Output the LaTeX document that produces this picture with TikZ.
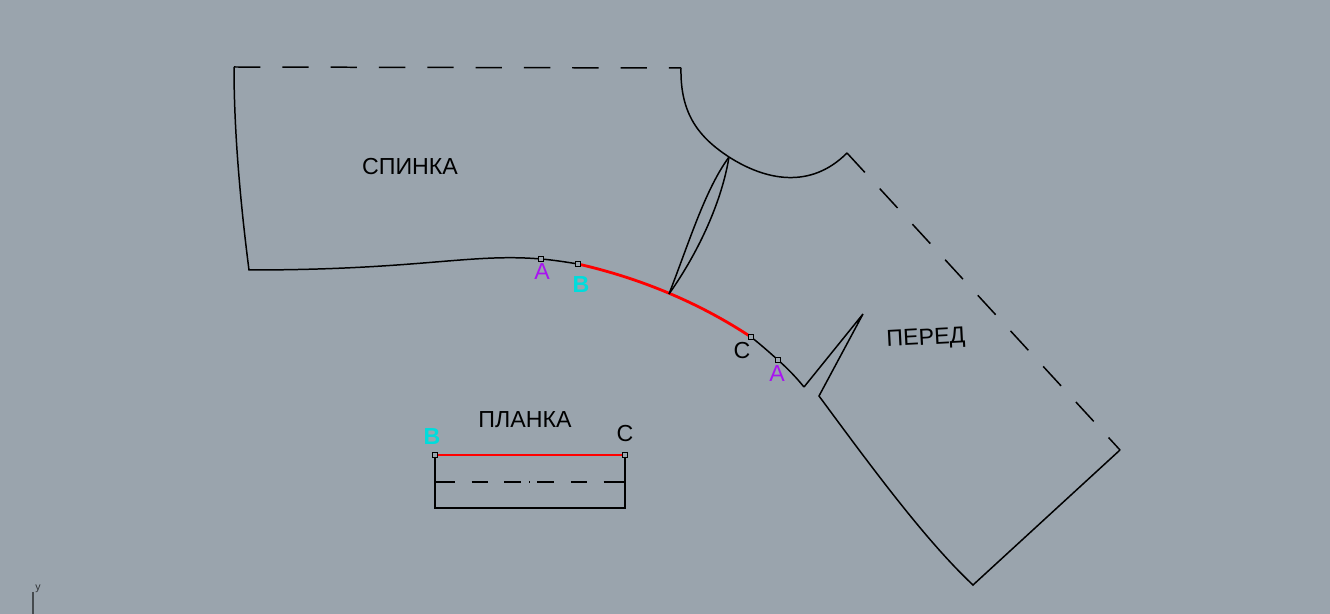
\documentclass[tikz,border=0pt]{standalone}
\usepackage{fontspec}
\setmainfont{Liberation Sans}
\usetikzlibrary{positioning}
\definecolor{bgcol}{HTML}{9AA4AD}
\definecolor{markA}{HTML}{A814F0}
\definecolor{markB}{HTML}{00DCDC}
\newcommand{\myunit}{0.02cm}
\tikzset{
    contour/.style={draw=black,line width=0.85pt},
    seam/.style={draw=red,line width=1.6pt},
    fold/.style={draw=black,line width=0.85pt,dash pattern=on 15pt off 12.5pt},
    piece label/.style={font=\fontsize{13.2}{15}\selectfont,inner sep=0pt},
    point label/.style={font=\fontsize{13.2}{15}\selectfont,inner sep=0pt},
    point mark/.style={draw=black,fill=bgcol,line width=0.5pt,minimum size=3pt,inner sep=0pt},
}

\begin{document}
\begin{tikzpicture}[x=\myunit,y=-\myunit]
\fill [bgcol] (0,0) rectangle (1330,614);
\useasboundingbox (0,0) rectangle (1330,614);

% outline points
\coordinate (backtop) at (234,67);
\coordinate (necktop) at (681,68);
\coordinate (neckmid) at (729,157);
\coordinate (shoulder) at (847,153);
\coordinate (sleeveR) at (1120,450);
\coordinate (sleeveB) at (973,585);
\coordinate (dartL) at (819,396);
\coordinate (darttip) at (863,314);
\coordinate (dartR) at (804,387);
\coordinate (backbot) at (249,270);
\coordinate (dartbot) at (669,294);

% marks on the seam
\node [point mark] (a1) at (541,259) {};
\node [point mark] (b1) at (578,264) {};
\node [point mark] (c1) at (751,337) {};
\node [point mark] (a2) at (778,360) {};
\node [point mark] (b2) at (435,455) {};
\node [point mark] (c2) at (625,455) {};
\coordinate (b3) at (435,508);
\coordinate (c3) at (625,508);
\coordinate (m1) at (435,482);
\coordinate (m2) at (625,482);

% outline
\draw [fold] (backtop) -- (necktop);
\draw [contour] (necktop) .. controls (680,115) and (700,138) .. (neckmid);
\draw [contour] (neckmid) .. controls (765,180) and (810,190) .. (shoulder);
\draw [fold] (shoulder) -- (sleeveR);
\draw [contour,line join=miter] (sleeveR) -- (sleeveB) .. controls (925,540) and (870,465) .. (dartL) -- (darttip) -- (dartR);
\draw [contour] (dartR) .. controls (795,376) and (787,368) .. (a2.center);
\draw [contour] (a2.center) .. controls (769,352) and (760,344) .. (c1.center);
\draw [contour] (b1.center) .. controls (566,262) and (553,260) .. (a1.center);
\draw [contour] (a1.center) .. controls (470,253) and (420,270) .. (backbot) .. controls (240,200) and (234,130) .. (backtop);
\draw [seam] (b1.center) .. controls (635,277) and (695,300) .. (c1.center);

% dart
\draw [contour] (dartbot) .. controls (690,240) and (705,190) .. (neckmid);
\draw [contour] (dartbot) .. controls (700,250) and (722,200) .. (neckmid);

% strip
\draw [contour] (b2.center) -- (b3) -- (c3) -- (c2.center);
\draw [contour,dash pattern=on 11.3pt off 9.6pt on 9pt off 9.6pt on 9.6pt off 4.5pt on 0.6pt off 4pt on 9.6pt off 9.6pt on 9pt off 9.6pt on 11.3pt] (m1) -- (m2);
\draw [seam,line width=1.3pt] (b2.center) -- (c2.center);
\node [point mark] at (a1) {};
\node [point mark] at (b1) {};
\node [point mark] at (c1) {};
\node [point mark] at (a2) {};
\node [point mark] at (b2) {};
\node [point mark] at (c2) {};

% labels
\node [piece label] (spinka) at (410,167) {СПИНКА};
\node [piece label,rotate=3] (pered) at (926,339) {ПЕРЕД};
\node [piece label] (planka) at (525,420) {ПЛАНКА};
\node [point label,text=markA] (la1) at (542,272) {A};
\node [point label,text=markB] (lb1) at (581,285) {\textbf{B}};
\node [point label] (lc1) at (742,351) {C};
\node [point label,text=markA] (la2) at (777,374) {A};
\node [point label,text=markB] (lb2) at (432,437) {\textbf{B}};
\node [point label] (lc2) at (625,434) {C};

% axis
\coordinate (axisA) at (33,592);
\coordinate (axisB) at (33,614);
\draw [draw=black!55!bgcol,line width=0.7pt] (axisA) -- (axisB);
\node [font=\fontsize{6}{7}\selectfont,text=black!70!bgcol,inner sep=0pt] (ylab) at (38,589) {y};
\end{tikzpicture}
\end{document}
